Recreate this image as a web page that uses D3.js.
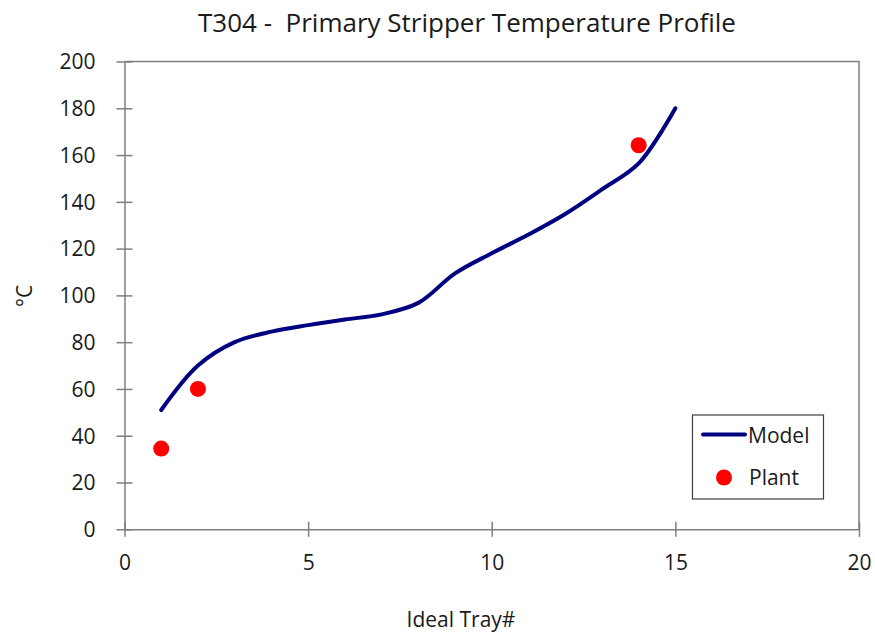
<!DOCTYPE html>
<html>
<head>
<meta charset="utf-8">
<script src="https://cdn.jsdelivr.net/npm/d3@7"></script>
<style>
  html, body { margin: 0; padding: 0; background: #fff; }
  svg { display: block; font-family: "Open Sans", "Noto Sans", sans-serif; }
  text { white-space: pre; }
</style>
</head>
<body>
<svg id="chart" width="875" height="633"></svg>
<script>
// Simulated temperature profile along the stripper (ideal trays 1..15)
const modelTrays = [1, 2, 3, 4, 5, 6, 7, 8, 9, 10, 11, 12, 13, 14, 15];
const modelTemps = [51, 70, 80, 84.5, 87.3, 89.7, 91.9, 96.8, 109.4, 118, 126, 134.8, 145.3, 156.4, 180];

// Measured plant temperatures
const plantTrays = [1, 2, 14];
const plantTemps = [34.5, 60, 164.2];

const xTicks = [0, 5, 10, 15, 20];
const yTicks = [0, 20, 40, 60, 80, 100, 120, 140, 160, 180, 200];

const titleText = "T304 -  Primary Stripper Temperature Profile";
const xTitle = "Ideal Tray#";
const yTitle = "°C";
const seriesNames = ["Model", "Plant"];

const svg = d3.select("#chart");
const plot = { left: 124.5, right: 859, top: 61.5, bottom: 529.3 };

const x = d3.scaleLinear().domain([0, 20]).range([plot.left, plot.right]);
const y = d3.scaleLinear().domain([0, 200]).range([plot.bottom, plot.top]);

const axisColor = "#7f7f7f";
const textColor = "#1a1a1a";
const labelSize = 21;

// plot frame (top and right edges)
svg.append("path")
  .attr("d", `M${plot.left},${plot.top}H${plot.right}V${plot.bottom}`)
  .attr("fill", "none")
  .attr("stroke", axisColor)
  .attr("stroke-width", 1.5);

// y axis with ticks crossing the axis line
const yAxis = svg.append("g")
  .attr("transform", `translate(${plot.left},0)`)
  .call(d3.axisLeft(y).tickValues(yTicks).tickSize(8).tickSizeOuter(0).tickPadding(21));
yAxis.select(".domain").attr("stroke", axisColor).attr("stroke-width", 1.5);
yAxis.selectAll(".tick line").attr("stroke", axisColor).attr("stroke-width", 1.5).attr("x2", 8).attr("x1", -8);
yAxis.selectAll(".tick text")
  .attr("fill", textColor).attr("font-size", labelSize).attr("font-family", "Open Sans, sans-serif")
  .attr("dy", "0.35em");

// x axis with ticks crossing the axis line
const xAxis = svg.append("g")
  .attr("transform", `translate(0,${plot.bottom})`)
  .call(d3.axisBottom(x).tickValues(xTicks).tickSize(7.5).tickSizeOuter(0).tickPadding(18));
xAxis.select(".domain").attr("stroke", axisColor).attr("stroke-width", 1.5);
xAxis.selectAll(".tick line").attr("stroke", axisColor).attr("stroke-width", 1.5).attr("y1", -7.5).attr("y2", 7.5);
xAxis.selectAll(".tick text")
  .attr("fill", textColor).attr("font-size", labelSize).attr("font-family", "Open Sans, sans-serif");

// model curve
const line = d3.line()
  .x((d, i) => x(modelTrays[i]))
  .y(d => y(d))
  .curve(d3.curveCatmullRom.alpha(0.5));

svg.append("path")
  .datum(modelTemps)
  .attr("d", line)
  .attr("fill", "none")
  .attr("stroke", "#000080")
  .attr("stroke-width", 4)
  .attr("stroke-linecap", "round")
  .attr("stroke-linejoin", "round");

// plant measurements
svg.append("g").selectAll("circle")
  .data(plantTemps)
  .join("circle")
  .attr("cx", (d, i) => x(plantTrays[i]))
  .attr("cy", d => y(d))
  .attr("r", 8)
  .attr("fill", "#ff0000");

// title and axis titles
svg.append("text")
  .attr("x", 198).attr("y", 32)
  .attr("font-size", 26)
  .attr("fill", textColor)
  .attr("xml:space", "preserve")
  .text(titleText);

svg.append("text")
  .attr("x", 461).attr("y", 627)
  .attr("text-anchor", "middle")
  .attr("font-size", labelSize)
  .attr("fill", textColor)
  .text(xTitle);

svg.append("text")
  .attr("transform", "translate(32,296) rotate(-90)")
  .attr("text-anchor", "middle")
  .attr("font-size", labelSize)
  .attr("fill", textColor)
  .text(yTitle);

// legend
const legend = svg.append("g");
legend.append("rect")
  .attr("x", 692.5).attr("y", 415)
  .attr("width", 131).attr("height", 84)
  .attr("fill", "#fff")
  .attr("stroke", "#404040")
  .attr("stroke-width", 1.2);
legend.append("line")
  .attr("x1", 703).attr("x2", 745)
  .attr("y1", 434.5).attr("y2", 434.5)
  .attr("stroke", "#000080").attr("stroke-width", 4).attr("stroke-linecap", "round");
legend.append("text")
  .attr("x", 748).attr("y", 443)
  .attr("font-size", labelSize).attr("fill", textColor)
  .text(seriesNames[0]);
legend.append("circle")
  .attr("cx", 724).attr("cy", 477.5).attr("r", 8).attr("fill", "#ff0000");
legend.append("text")
  .attr("x", 749).attr("y", 485)
  .attr("font-size", labelSize).attr("fill", textColor)
  .text(seriesNames[1]);
</script>
</body>
</html>
